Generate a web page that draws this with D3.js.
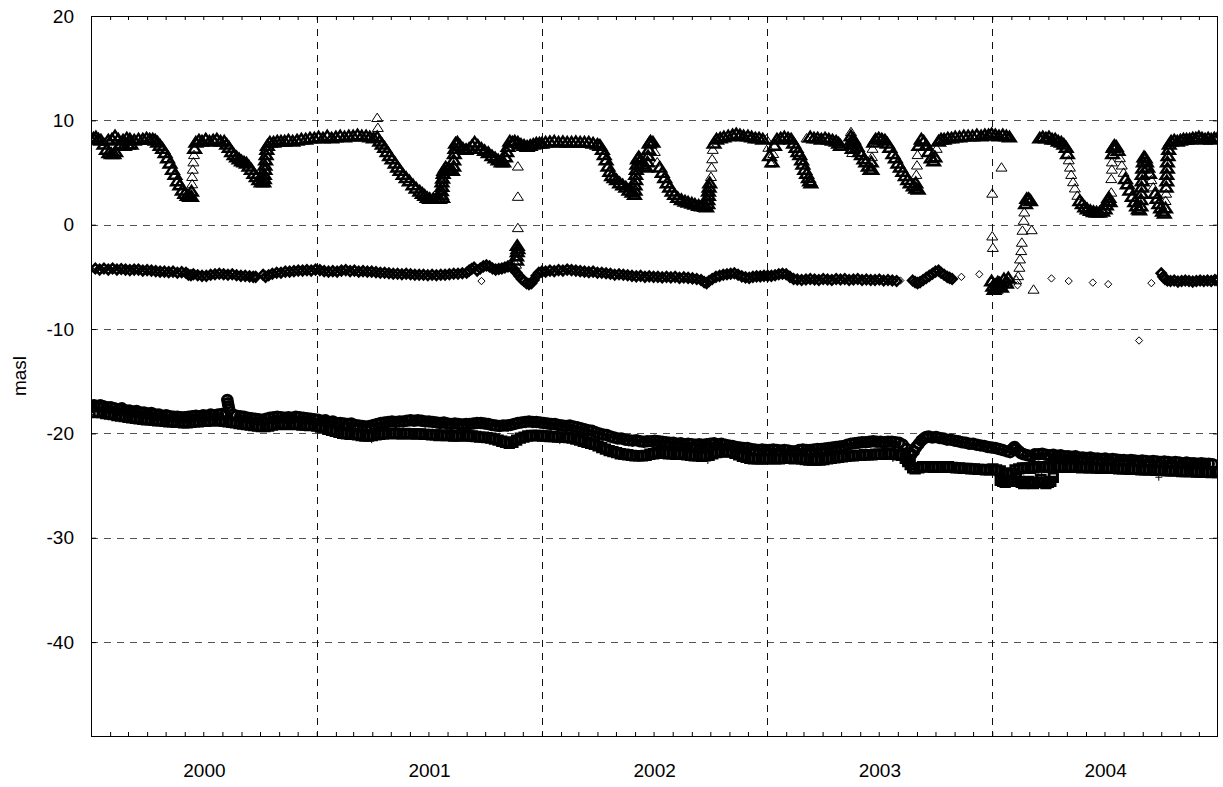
<!DOCTYPE html>
<html>
<head>
<meta charset="utf-8">
<script src="https://cdn.jsdelivr.net/npm/d3@7"></script>
<style>
  body { margin: 0; background: #fff; }
  text { font-family: "Liberation Sans", Arial, Helvetica, sans-serif; }
</style>
</head>
<body>
<svg id="chart" width="1223" height="787"></svg>
<script>
// axis labels
var yearLabels = [2000, 2001, 2002, 2003, 2004]
var yTicks = [20, 10, 0, -10, -20, -30, -40]
var yLabel = 'masl'

// every series: [day since 2000-01-01, level in masl]
var triangles = [
  [0,8.2],[4,8.3],[8,8.4],[12,8.2],[16,8.1],[21,7.7],[25,7.2],[29,6.9],[33,6.8],[37,6.8],[40,7.0],
  [28,8.1],[34,8.2],[39,8.5],[44,8.2],[48,7.7],[54,7.6],[60,7.7],[65,7.7],
  [52,8.1],[58,8.3],[63,8.2],[70,8.1],[77,8.2],[84,8.2],[90,8.3],[95,8.2],[100,8.2],[104,8.1],
  [108,7.9],[112,7.6],[116,7.3],[120,6.9],[124,6.4],[128,5.9],[132,5.3],[136,4.8],[140,4.2],[144,3.8],[148,3.3],[152,3.0],[156,2.8],[160,2.7],[163,2.7],
  [163,3.2],[164,3.9],[164,4.6],[165,5.3],[166,6.0],[167,6.7],[168,7.3],
  [170,7.9],[175,8.1],[180,8.0],[186,8.2],[192,8.0],[198,8.1],[204,8.2],[210,8.0],[216,8.0],
  [220,7.7],[224,7.4],[228,7.0],[232,6.7],[236,6.5],[240,6.3],[244,6.1],[248,6.0],[252,5.9],[256,5.6],[260,5.3],[264,4.9],[268,4.6],[272,4.3],[276,4.1],[280,4.1],
  [281,4.4],[281,4.8],[282,5.3],[282,5.7],[283,6.2],[284,6.7],[285,7.2],[286,7.6],
  [290,7.9],[296,7.9],[302,8.0],[308,8.0],[314,8.0],[320,8.1],[327,8.0],[334,8.1],[341,8.2],[348,8.2],[355,8.3],[362,8.3],
  [369,8.4],[376,8.3],[383,8.5],[390,8.3],[397,8.4],[404,8.5],[411,8.4],[418,8.5],[425,8.5],[432,8.6],[439,8.5],[446,8.5],[452,8.4],[458,8.3],[464,8.4],
  [464,10.25],[465,9.3],
  [468,8.0],[472,7.7],[476,7.4],[480,7.0],[484,6.6],[488,6.3],[493,5.9],[497,5.5],[501,5.2],[506,4.8],[511,4.5],[516,4.2],[522,3.8],[527,3.5],[533,3.2],[537,3.0],[541,2.8],[545,2.6],[549,2.5],[555,2.5],[560,2.5],[565,2.5],[570,2.6],
  [568,2.9],[568,3.25],[569,3.65],[569,4.1],[570,4.45],[571,4.9],
  [572,5.2],[575,5.5],[578,5.3],[582,5.2],[586,5.2],
  [588,5.6],[588,6.2],[589,6.8],[590,7.3],[591,7.8],
  [594,7.9],[598,7.6],[603,7.3],[608,7.2],[613,7.3],[618,7.6],[622,7.9],[627,7.6],[633,7.3],[638,7.1],[644,6.9],[650,6.6],[655,6.4],[660,6.2],[665,6.0],[669,6.0],
  [672,6.5],[674,7.0],[676,7.5],[679,8.0],[683,7.9],
  [692,5.6],[692,2.7],[692,-0.3],[691,-2.0],[692,-2.3],[691,-2.6],[690,-3.0],[690,-3.4],[689,-3.8],
  [687,8.0],[692,7.9],[697,7.7],[702,7.6],[707,7.5],[712,7.6],[717,7.7],[722,7.8],[727,7.8],[731,7.8],[737,7.9],[744,7.95],[751,8.0],[758,7.9],[765,7.95],[772,7.9],[779,7.9],[786,7.95],[793,7.9],[800,7.9],[807,7.9],[814,7.8],[821,7.7],[825,7.6],
  [829,7.2],[832,6.7],[835,6.2],[838,5.6],[841,5.1],[844,4.7],[848,4.5],[852,4.3],[857,4.0],[862,3.8],[867,3.6],[872,3.3],[877,3.1],[881,2.9],
  [882,3.3],[882,3.8],[883,4.3],[883,4.8],[884,5.3],[885,5.8],[886,6.3],
  [888,6.5],[891,6.2],[894,5.8],[897,5.6],[900,5.5],
  [902,6.0],[903,6.6],[904,7.2],[905,7.8],[907,8.0],[911,7.9],
  [914,7.0],[918,6.0],[922,5.5],[926,5.0],[930,4.5],[934,4.0],[938,3.6],[942,3.2],[946,2.9],[951,2.6],[957,2.4],[963,2.25],[968,2.15],[974,2.05],[979,1.95],[985,1.85],[990,1.8],[995,1.75],[998,1.7],
  [1000,2.0],[1000,2.4],[1001,2.8],[1001,3.2],[1002,3.6],[1003,4.0],[1005,4.6],[1006,5.5],[1007,6.3],[1008,7.2],[1010,7.8],
  [1014,8.2],[1020,8.3],[1026,8.4],[1033,8.5],[1040,8.6],[1046,8.7],[1052,8.6],[1058,8.5],[1065,8.5],[1071,8.4],[1077,8.3],[1083,8.3],[1089,8.2],[1095,8.2],
  [1098,7.4],[1100,6.6],[1102,5.9],[1104,6.0],[1106,6.8],[1108,7.6],[1112,8.2],
  [1118,8.3],[1124,8.4],[1130,8.3],[1135,8.2],
  [1139,7.8],[1143,7.4],[1146,7.0],[1149,6.7],[1152,6.2],[1154,5.8],[1157,5.3],[1160,4.9],[1163,4.5],[1165,4.2],[1167,4.0],
  [1160,8.3],[1166,8.4],[1172,8.3],[1178,8.3],[1184,8.2],[1190,8.3],[1196,8.2],[1202,8.1],[1208,8.0],[1212,7.8],[1215,7.6],
  [1232,8.9],[1232,8.5],[1233,8.1],[1233,7.7],[1234,7.3],[1234,6.9],
  [1236,8.2],[1238,7.9],[1242,7.5],[1246,7.0],[1249,6.7],[1253,6.3],[1256,6.0],[1260,5.6],[1263,5.3],[1266,5.3],
  [1265,6.0],[1266,6.5],[1267,7.3],[1269,7.9],
  [1272,8.2],[1277,8.3],[1282,8.2],[1287,8.1],
  [1291,7.8],[1295,7.4],[1300,6.8],[1304,6.4],[1308,5.9],[1312,5.5],[1316,5.1],[1320,4.7],[1324,4.3],[1328,4.0],[1333,3.7],[1337,3.5],[1341,3.4],
  [1337,4.0],[1338,4.8],[1339,5.7],[1340,6.7],[1342,7.6],
  [1346,8.2],[1350,8.0],[1354,7.6],[1358,7.0],[1362,6.4],[1366,6.1],[1368,6.5],[1371,7.3],[1374,8.0],[1378,8.2],
  [1383,8.2],[1389,8.3],[1395,8.3],[1401,8.4],[1408,8.4],[1415,8.5],[1422,8.5],[1429,8.5],[1436,8.6],[1443,8.5],[1449,8.6],[1455,8.6],[1460,8.7],[1466,8.6],[1472,8.5],[1478,8.6],[1484,8.5],[1489,8.4],
  [1476,5.5],[1461,3.0],[1461,-1.1],[1462,-2.2],
  [1460,-5.4],[1462,-5.9],[1464,-6.2],[1466,-6.1],[1468,-5.8],[1470,-5.5],[1473,-5.6],[1476,-6.0],[1480,-5.2],[1484,-5.6],[1487,-5.1],
  [1500,-5.3],[1503,-4.9],[1505,-4.1],[1506,-3.3],[1508,-2.5],[1509,-1.7],[1510,-0.55],[1512,0.4],[1513,1.2],[1515,2.0],[1517,2.5],[1520,2.5],[1523,2.3],
  [1525,-0.5],[1528,-6.2],
  [1538,8.3],[1543,8.4],[1548,8.3],[1553,8.4],[1558,8.2],[1563,8.2],[1568,8.0],[1573,7.9],[1577,7.7],[1581,7.4],[1583,6.8],[1585,6.2],[1587,5.5],[1589,4.8],[1592,4.1],[1595,3.5],[1599,2.8],[1603,2.3],[1607,2.0],[1611,1.7],[1615,1.5],[1620,1.35],[1625,1.25],[1630,1.2],[1635,1.2],[1640,1.3],[1644,1.5],
  [1646,1.9],[1648,2.3],[1650,2.6],[1652,2.2],
  [1654,3.1],[1654,4.4],[1655,5.3],[1655,6.0],[1656,6.8],[1657,7.4],
  [1659,7.6],[1662,7.5],
  [1665,7.1],[1668,6.4],[1671,5.7],[1674,5.0],[1677,4.4],[1680,3.9],[1684,3.3],[1688,2.7],[1692,2.2],[1695,1.8],[1698,1.5],[1700,1.4],
  [1702,1.8],[1702,2.4],[1703,3.0],[1703,3.6],[1704,4.2],[1704,4.8],[1705,5.4],[1706,6.0],[1707,6.5],
  [1709,6.4],[1711,6.0],
  [1713,5.5],[1716,4.9],[1719,4.3],[1722,3.6],[1725,3.0],[1728,2.5],[1731,2.0],[1734,1.6],[1737,1.3],[1740,1.1],
  [1742,1.6],[1742,2.3],[1743,3.0],[1743,3.6],[1744,4.2],[1744,4.8],[1745,5.4],[1745,6.0],[1746,6.6],[1747,7.2],[1748,7.7],
  [1751,8.0],[1756,8.1],[1761,8.0],[1766,8.1],[1771,8.2],[1776,8.2],[1781,8.2],[1786,8.3],[1791,8.3],[1796,8.4],[1801,8.3],[1806,8.2],[1811,8.3],[1816,8.2],[1821,8.3],[1826,8.3]
]

var diamonds = [
  [0,-4.3],[7,-4.2],[14,-4.3],[21,-4.2],[28,-4.3],[35,-4.2],[42,-4.3],[49,-4.25],[56,-4.3],[63,-4.35],[70,-4.3],[77,-4.3],[84,-4.4],[91,-4.35],[98,-4.4],[105,-4.45],[112,-4.5],[119,-4.5],[126,-4.55],[133,-4.5],[140,-4.6],[147,-4.55],[154,-4.6],[158,-4.8],[162,-4.85],[166,-4.75],[173,-4.85],[180,-4.9],[187,-4.9],[194,-4.8],[201,-4.75],[208,-4.7],[215,-4.75],[222,-4.8],[229,-4.75],[236,-4.85],[243,-4.9],[250,-4.9],[257,-4.95],[263,-5.0],[267,-5.0],
  [279,-4.8],[283,-5.0],[288,-4.85],[294,-4.7],[301,-4.6],[308,-4.6],[315,-4.5],[322,-4.5],[329,-4.45],[336,-4.4],[343,-4.4],[350,-4.35],[357,-4.4],[364,-4.3],
  [371,-4.35],[378,-4.45],[385,-4.5],[392,-4.45],[399,-4.5],[406,-4.4],[413,-4.35],[420,-4.45],[427,-4.4],[434,-4.5],[441,-4.45],[448,-4.5],[455,-4.5],[462,-4.55],[469,-4.6],[476,-4.6],[483,-4.65],[490,-4.7],[497,-4.7],[504,-4.75],[511,-4.7],[518,-4.75],[525,-4.8],[532,-4.8],[539,-4.8],[546,-4.85],[553,-4.8],[560,-4.85],[567,-4.8],[574,-4.8],[581,-4.75],[588,-4.7],[595,-4.7],[602,-4.65],[609,-4.6],[613,-4.4],[617,-4.25],[621,-4.1],[626,-4.4],[633,-5.4],[631,-4.2],[636,-4.0],[641,-3.9],[646,-4.0],[651,-4.2],[656,-4.3],[661,-4.25],[666,-4.2],[671,-4.1],[676,-4.0],[681,-4.05],[686,-4.3],[690,-4.6],[694,-4.9],[698,-5.2],[702,-5.4],[706,-5.6],[710,-5.7],[714,-5.6],[718,-5.3],[722,-4.9],[726,-4.6],
  [731,-4.5],[737,-4.5],[744,-4.4],[751,-4.45],[758,-4.35],[765,-4.4],[772,-4.3],[779,-4.35],[786,-4.4],[793,-4.45],[800,-4.5],[807,-4.55],[814,-4.5],[821,-4.6],[828,-4.6],[835,-4.65],[842,-4.7],[849,-4.8],[856,-4.75],[863,-4.8],[870,-4.85],[877,-4.9],[884,-4.95],[891,-4.9],[898,-5.0],[905,-4.95],[912,-5.0],
  [919,-5.0],[926,-5.05],[933,-5.0],[940,-5.05],[947,-5.0],[954,-5.1],[961,-5.05],[968,-5.1],[975,-5.15],[982,-5.2],[989,-5.3],[994,-5.5],[998,-5.6],[1002,-5.4],[1007,-5.2],[1013,-5.0],[1019,-4.9],[1025,-4.8],[1031,-4.75],[1037,-4.7],[1043,-4.65],[1049,-4.8],[1055,-4.95],[1061,-5.05],[1067,-5.1],[1073,-5.0],[1079,-4.95],[1085,-4.95],[1091,-4.9],
  [1097,-4.9],[1103,-4.9],[1109,-4.85],[1115,-4.75],[1121,-4.7],[1127,-4.75],[1133,-5.0],[1139,-5.2],[1145,-5.25],[1152,-5.3],[1159,-5.25],[1166,-5.2],[1173,-5.25],[1180,-5.3],[1187,-5.2],[1194,-5.25],[1201,-5.3],[1208,-5.2],[1215,-5.25],[1222,-5.2],[1229,-5.3],[1236,-5.25],[1243,-5.2],[1250,-5.3],[1257,-5.25],[1264,-5.3],[1271,-5.3],[1278,-5.25],[1285,-5.35],[1292,-5.3],[1299,-5.35],[1306,-5.4],[1312,-5.35],
  [1332,-5.35],[1336,-5.5],[1340,-5.6],[1344,-5.5],[1349,-5.3],[1354,-5.1],[1359,-4.9],[1364,-4.7],[1369,-4.5],[1374,-4.4],[1378,-4.6],[1383,-4.8],[1388,-5.0],[1392,-5.1],[1396,-5.2],
  [1411,-5.0],[1440,-4.75],[1458,-5.4],[1466,-5.7],[1472,-5.6],[1478,-5.9],[1485,-5.5],[1490,-5.3],[1502,-5.8],[1557,-5.15],[1585,-5.4],[1624,-5.55],[1649,-5.7],[1699,-11.1],[1719,-5.6],[1735,-4.65],
  [1738,-5.0],[1741,-5.2],[1745,-5.35],[1750,-5.4],[1756,-5.35],[1762,-5.45],[1768,-5.4],[1774,-5.35],[1780,-5.4],[1786,-5.45],[1792,-5.4],[1798,-5.35],[1804,-5.4],[1810,-5.35],[1816,-5.4],[1822,-5.3],[1826,-5.35]
]

var circles = [
  [0,-17.5],[5,-17.3],[10,-17.4],[15,-17.3],[20,-17.4],[26,-17.5],[32,-17.5],[38,-17.6],[44,-17.7],[50,-17.6],[56,-17.8],[62,-17.8],[68,-17.9],[74,-17.85],[80,-18.0],[86,-18.0],[92,-18.1],[98,-18.05],[104,-18.2],[110,-18.2],[116,-18.3],[122,-18.25],[128,-18.35],[134,-18.4],[140,-18.4],[146,-18.45],[152,-18.45],[158,-18.4],[164,-18.35],[170,-18.3],[176,-18.35],[182,-18.25],[188,-18.3],[194,-18.2],[200,-18.25],[206,-18.2],[212,-18.15],[218,-18.2],
  [221,-16.8],[222,-17.1],[223,-17.4],[224,-17.7],
  [230,-18.2],[236,-18.3],[242,-18.35],[248,-18.4],[254,-18.5],[260,-18.55],[266,-18.6],[272,-18.65],[278,-18.7],[284,-18.6],[290,-18.5],[296,-18.45],[302,-18.4],[308,-18.45],[314,-18.5],[320,-18.45],[326,-18.5],[332,-18.4],[338,-18.45],[344,-18.5],[350,-18.55],[356,-18.6],[362,-18.65],
  [368,-18.7],[374,-18.8],[380,-18.75],[386,-18.9],[392,-18.85],[398,-19.0],[404,-19.0],[410,-19.05],[416,-19.1],[422,-19.05],[428,-19.2],[434,-19.25],[440,-19.3],[446,-19.35],[452,-19.3],[458,-19.2],[464,-19.1],[470,-19.0],[476,-18.95],[482,-18.9],[488,-18.85],[494,-18.9],[500,-18.85],[506,-18.85],[512,-18.8],[518,-18.75],[524,-18.8],[530,-18.75],[536,-18.8],[542,-18.85],[548,-18.85],[554,-18.9],[560,-18.95],[566,-19.0],[572,-18.95],[578,-19.05],[584,-19.1],[590,-19.05],[596,-19.1],[602,-19.15],[608,-19.1],[614,-19.1],[620,-19.05],[626,-19.0],[632,-19.0],[638,-19.05],[644,-19.1],[650,-19.2],[656,-19.25],[662,-19.3],[668,-19.25],[674,-19.25],[680,-19.2],[686,-19.1],[692,-19.0],[698,-18.95],[704,-18.9],[710,-18.85],[716,-18.9],[722,-18.9],[728,-18.95],
  [734,-19.0],[740,-19.05],[746,-19.1],[752,-19.1],[758,-19.2],[764,-19.25],[770,-19.3],[776,-19.25],[782,-19.35],[788,-19.4],[794,-19.5],[800,-19.6],[806,-19.7],[812,-19.75],[818,-19.9],[824,-20.0],[830,-20.1],[836,-20.15],[842,-20.3],[848,-20.4],[854,-20.5],[860,-20.5],[866,-20.6],[872,-20.65],[878,-20.7],[884,-20.65],[890,-20.75],[896,-20.8],[902,-20.75],[908,-20.75],[914,-20.7],[920,-20.75],[926,-20.8],[932,-20.85],[938,-20.9],[944,-20.9],[950,-21.0],[956,-20.95],[962,-21.05],[968,-21.0],[974,-21.05],[980,-21.1],[986,-21.05],[992,-21.1],[998,-21.05],[1004,-21.0],[1010,-20.95],[1016,-21.05],[1022,-21.0],[1028,-21.1],[1034,-21.15],[1040,-21.2],[1046,-21.3],[1052,-21.35],[1058,-21.4],[1064,-21.4],[1070,-21.5],[1076,-21.55],[1082,-21.6],[1088,-21.55],[1094,-21.6],
  [1100,-21.6],[1106,-21.55],[1112,-21.6],[1118,-21.65],[1124,-21.6],[1130,-21.65],[1136,-21.7],[1142,-21.7],[1148,-21.6],[1154,-21.55],[1160,-21.6],[1166,-21.6],[1172,-21.55],[1178,-21.5],[1184,-21.5],[1190,-21.45],[1196,-21.4],[1202,-21.35],[1208,-21.3],[1214,-21.25],[1220,-21.2],[1226,-21.1],[1232,-21.0],[1238,-20.95],[1244,-20.9],[1250,-20.85],[1256,-20.85],[1262,-20.8],[1268,-20.75],[1274,-20.8],[1280,-20.8],[1286,-20.85],[1292,-20.8],[1298,-20.8],[1304,-20.85],[1310,-20.9],[1316,-21.1],[1322,-21.5],[1326,-21.9],[1330,-22.0],[1334,-21.7],[1338,-21.3],[1342,-21.0],[1346,-20.7],[1350,-20.5],[1354,-20.35],[1358,-20.3],[1364,-20.4],[1370,-20.35],[1376,-20.45],[1382,-20.5],[1388,-20.6],[1394,-20.6],[1400,-20.7],[1406,-20.75],[1412,-20.85],[1418,-20.9],[1424,-21.0],[1430,-21.0],[1436,-21.1],[1442,-21.15],[1448,-21.2],[1454,-21.3],[1460,-21.35],
  [1466,-21.4],[1472,-21.5],[1478,-21.6],[1484,-21.7],[1490,-21.8],[1494,-21.5],[1497,-21.3],[1500,-21.5],[1504,-21.7],[1508,-21.9],[1512,-22.0],[1518,-22.1],[1524,-22.2],[1530,-22.0],[1536,-22.0],[1542,-21.95],[1548,-22.05],[1554,-22.1],[1560,-22.05],[1566,-22.15],[1572,-22.1],[1578,-22.2],[1584,-22.2],[1590,-22.25],[1596,-22.2],[1602,-22.3],[1608,-22.3],[1614,-22.35],[1620,-22.3],[1626,-22.4],[1632,-22.4],[1638,-22.45],[1644,-22.4],[1650,-22.5],[1656,-22.45],[1662,-22.5],[1668,-22.55],[1674,-22.55],[1680,-22.6],[1686,-22.55],[1692,-22.6],[1698,-22.65],[1704,-22.6],[1710,-22.65],[1716,-22.7],[1722,-22.65],[1728,-22.7],[1734,-22.75],[1740,-22.7],[1746,-22.75],[1752,-22.8],[1758,-22.75],[1764,-22.8],[1770,-22.85],[1776,-22.8],[1782,-22.85],[1788,-22.85],[1794,-22.9],[1800,-22.85],[1806,-22.9],[1812,-22.9],[1818,-22.95],[1824,-22.9]
]

var squares = [
  [0,-17.9],[6,-18.0],[12,-17.95],[18,-18.0],[24,-18.1],[30,-18.15],[36,-18.2],[42,-18.3],[48,-18.35],[54,-18.4],[60,-18.45],[66,-18.5],[72,-18.55],[78,-18.6],[84,-18.65],[90,-18.7],[96,-18.7],[102,-18.75],[108,-18.8],[114,-18.8],[120,-18.85],[126,-18.9],[132,-18.9],[138,-18.95],[144,-18.95],[150,-19.0],[156,-19.0],[162,-18.95],[168,-18.9],[174,-18.9],[180,-18.85],[186,-18.85],[192,-18.8],[198,-18.8],[204,-18.75],[210,-18.8],[216,-18.85],[222,-18.9],[228,-18.95],[234,-19.0],[240,-19.05],[246,-19.1],[252,-19.15],[258,-19.2],[264,-19.25],[270,-19.3],[276,-19.35],[282,-19.35],[288,-19.3],[294,-19.2],[300,-19.15],[306,-19.1],[312,-19.1],[318,-19.15],[324,-19.1],[330,-19.1],[336,-19.15],[342,-19.2],[348,-19.2],[354,-19.25],[360,-19.2],
  [366,-19.3],[372,-19.4],[378,-19.5],[384,-19.6],[390,-19.7],[396,-19.8],[402,-19.9],[408,-20.0],[414,-20.05],[420,-20.1],[426,-20.1],[432,-20.15],[438,-20.2],[444,-20.25],[450,-20.25],[456,-20.2],[462,-20.15],[468,-20.1],[474,-20.05],[480,-20.05],[486,-20.0],[492,-20.0],[498,-20.05],[504,-20.05],[510,-20.0],[516,-20.05],[522,-20.05],[528,-20.05],[534,-20.05],[540,-20.1],[546,-20.1],[552,-20.15],[558,-20.15],[564,-20.2],[570,-20.15],[576,-20.2],[582,-20.2],[588,-20.25],[594,-20.25],[600,-20.2],[606,-20.2],[612,-20.25],[618,-20.25],[624,-20.3],[630,-20.35],[636,-20.35],[642,-20.4],[648,-20.45],[654,-20.55],[660,-20.65],[666,-20.75],[672,-20.85],[678,-20.95],[684,-20.85],[690,-20.65],[696,-20.45],[702,-20.35],[708,-20.25],[714,-20.2],[720,-20.2],[726,-20.2],
  [732,-20.25],[738,-20.25],[744,-20.3],[750,-20.3],[756,-20.35],[762,-20.35],[768,-20.35],[774,-20.4],[780,-20.45],[786,-20.55],[792,-20.65],[798,-20.75],[804,-20.85],[810,-20.95],[816,-21.05],[822,-21.2],[828,-21.35],[834,-21.5],[840,-21.65],[846,-21.75],[852,-21.85],[858,-21.95],[864,-22.0],[870,-22.05],[876,-22.1],[882,-22.15],[888,-22.15],[894,-22.15],[900,-22.1],[906,-22.0],[912,-21.95],[918,-21.85],[924,-21.85],[930,-21.9],[936,-21.95],[942,-21.95],[948,-22.0],[954,-21.95],[960,-22.0],[966,-22.05],[972,-22.1],[978,-22.15],[984,-22.15],[990,-22.2],[996,-22.15],[1002,-22.1],[1008,-21.95],[1014,-21.85],[1020,-21.8],[1026,-21.75],[1032,-21.75],[1038,-21.8],[1044,-21.9],[1050,-22.05],[1056,-22.2],[1062,-22.3],[1068,-22.4],[1074,-22.45],[1080,-22.45],[1086,-22.45],[1092,-22.45],
  [1098,-22.45],[1104,-22.4],[1110,-22.45],[1116,-22.45],[1122,-22.4],[1128,-22.35],[1134,-22.4],[1140,-22.45],[1146,-22.4],[1152,-22.45],[1158,-22.5],[1164,-22.55],[1170,-22.55],[1176,-22.55],[1182,-22.55],[1188,-22.5],[1194,-22.45],[1200,-22.4],[1206,-22.35],[1212,-22.3],[1218,-22.25],[1224,-22.2],[1230,-22.15],[1236,-22.15],[1242,-22.1],[1248,-22.1],[1254,-22.05],[1260,-22.05],[1266,-22.05],[1272,-22.0],[1278,-22.0],[1284,-22.0],[1290,-21.95],[1296,-21.95],[1302,-22.0],[1308,-22.05],[1314,-22.1],[1320,-22.4],[1324,-22.7],[1328,-23.0],[1332,-23.3],[1336,-23.4],[1342,-23.3],[1348,-23.2],[1354,-23.2],[1360,-23.2],[1366,-23.25],[1372,-23.2],[1378,-23.2],[1384,-23.25],[1390,-23.2],[1396,-23.25],[1402,-23.3],[1408,-23.3],[1414,-23.35],[1420,-23.35],[1426,-23.4],[1432,-23.4],[1438,-23.45],[1444,-23.45],[1450,-23.5],[1456,-23.5],
  [1474,-24.5],[1478,-24.6],[1482,-24.7],[1486,-24.6],[1490,-24.5],[1494,-24.6],[1500,-24.3],[1504,-24.6],[1508,-24.7],[1512,-24.8],[1516,-24.7],[1520,-24.6],[1524,-24.7],[1528,-24.8],[1536,-24.0],[1540,-24.4],[1544,-24.7],[1548,-24.8],[1552,-24.7],[1556,-24.6],[1560,-24.2],
  [1462,-23.4],[1468,-23.5],[1474,-23.6],[1480,-23.8],[1486,-23.9],[1492,-23.8],[1498,-23.5],[1504,-23.4],[1510,-23.3],[1516,-23.3],[1522,-23.35],[1528,-23.3],[1534,-23.2],[1540,-23.2],[1546,-23.2],[1552,-23.25],[1558,-23.2],[1564,-23.2],[1570,-23.2],[1576,-23.25],[1582,-23.2],[1588,-23.25],[1594,-23.2],[1600,-23.25],[1606,-23.3],[1612,-23.25],[1618,-23.3],[1624,-23.3],[1630,-23.3],[1636,-23.35],[1642,-23.3],[1648,-23.35],[1654,-23.35],[1660,-23.35],[1666,-23.4],[1672,-23.4],[1678,-23.4],[1684,-23.45],[1690,-23.45],[1696,-23.45],[1702,-23.5],[1708,-23.5],[1714,-23.5],[1720,-23.5],[1726,-23.55],[1732,-23.55],[1738,-23.55],[1744,-23.6],[1750,-23.6],[1756,-23.6],[1762,-23.6],[1768,-23.65],[1774,-23.65],[1780,-23.65],[1786,-23.65],[1792,-23.7],[1798,-23.7],[1804,-23.7],[1810,-23.7],[1816,-23.75],[1822,-23.7],[1826,-23.75]
]

var pluses = [
  [455,-20.6],[610,-19.0],[760,-20.7],[1000,-22.6],[1300,-22.4],[1500,-23.7],[1731,-24.2],[1820,-23.9]
]

var svg = d3.select('#chart')
var plotL = 91, plotR = 1218, plotT = 16, plotB = 736
var start = new Date(Date.UTC(2000, 0, 1))
var end = new Date(Date.UTC(2005, 0, 1))

var x = d3.scaleUtc()
  .domain([start, end])
  .range([plotL, plotR])
var y = d3.scaleLinear()
  .domain([-49, 20])
  .range([plotB, plotT])

function day(d) { return d3.utcDay.offset(start, d) }

// grid
svg.append('g')
  .selectAll('line')
  .data(yTicks.filter(function(v) { return v < 20 }))
  .enter().append('line')
  .attr('x1', plotL).attr('x2', plotR)
  .attr('y1', function(d) { return Math.round(y(d)) + 0.5 })
  .attr('y2', function(d) { return Math.round(y(d)) + 0.5 })
  .attr('stroke', '#555').attr('stroke-dasharray', '7,6')

svg.append('g')
  .selectAll('line')
  .data(yearLabels.slice(1))
  .enter().append('line')
  .attr('y1', plotT).attr('y2', plotB)
  .attr('x1', function(d) { return Math.round(x(new Date(Date.UTC(d, 0, 1)))) + 0.5 })
  .attr('x2', function(d) { return Math.round(x(new Date(Date.UTC(d, 0, 1)))) + 0.5 })
  .attr('stroke', '#111').attr('stroke-dasharray', '7,6')

// markers
var shapes = {
  triangle: 'M0,-4.6L5.5,3.8L-5.5,3.8Z',
  diamond: 'M0,-3.7L3.6,0L0,3.7L-3.6,0Z',
  square: 'M-3.2,-3.2H3.2V3.2H-3.2Z',
  circle: d3.symbol().type(d3.symbolCircle).size(42)(),
  plus: 'M-3.5,0H3.5M0,-3.5V3.5'
}

svg.append('clipPath').attr('id', 'clip')
  .append('rect').attr('x', plotL).attr('y', plotT)
  .attr('width', plotR - plotL).attr('height', plotB - plotT)
var plot = svg.append('g').attr('clip-path', 'url(#clip)')

// markers packed in a dense run get a heavier, slightly larger outline;
// lone markers (outliers, steep jumps) stay thin like the original
function drawSeries(data, shape, heavy, grow) {
  var pts = data.map(function(d) { return [x(day(d[0])), y(d[1])] })
  function dense(p) {
    return pts.filter(function(q) {
      var dx = q[0] - p[0], dy = q[1] - p[1]
      return dx * dx + dy * dy < 52
    }).length >= 3
  }
  plot.append('g')
    .selectAll('path')
    .data(pts)
    .enter().append('path')
    .attr('d', shapes[shape])
    .attr('transform', function(p) {
      var s = dense(p) ? grow : 1
      return 'translate(' + p[0] + ',' + p[1] + ') scale(' + s + ')'
    })
    .attr('fill', 'none')
    .attr('stroke', '#000')
    .attr('vector-effect', 'non-scaling-stroke')
    .attr('stroke-width', function(p) { return dense(p) ? heavy : 1 })
}

drawSeries(squares, 'square', 3, 1.3)
drawSeries(pluses, 'plus', 1, 1)
drawSeries(circles, 'circle', 3, 1.3)
drawSeries(diamonds, 'diamond', 2.7, 1.25)
drawSeries(triangles, 'triangle', 2.5, 1.12)

// axes
var months = d3.utcMonth.range(start, end)
svg.append('g')
  .attr('transform', 'translate(0,' + plotB + ')')
  .call(d3.axisBottom(x).tickValues(months).tickSize(-4).tickFormat(''))
  .call(function(g) { g.select('.domain').remove() })
svg.append('g')
  .attr('transform', 'translate(0,' + plotT + ')')
  .call(d3.axisTop(x).tickValues(months).tickSize(-4).tickFormat(''))
  .call(function(g) { g.select('.domain').remove() })

var midYears = yearLabels.map(function(yr) { return new Date(Date.UTC(yr, 6, 2)) })
svg.append('g')
  .attr('transform', 'translate(0,' + plotB + ')')
  .call(d3.axisBottom(x).tickValues(midYears).tickSize(0).tickPadding(28)
    .tickFormat(d3.utcFormat('%Y')))
  .call(function(g) { g.select('.domain').remove() })

svg.append('g')
  .attr('transform', 'translate(' + plotL + ',0)')
  .call(d3.axisLeft(y).tickValues(yTicks).tickSize(-5).tickPadding(17)
    .tickFormat(function(d) { return String(d) }))
  .call(function(g) { g.select('.domain').remove() })
svg.append('g')
  .attr('transform', 'translate(' + plotR + ',0)')
  .call(d3.axisRight(y).tickValues(yTicks).tickSize(-5).tickFormat(''))
  .call(function(g) { g.select('.domain').remove() })

svg.selectAll('.tick text')
  .attr('fill', '#000')
  .style('font-size', '19px')
  .style('font-family', '"Liberation Sans", Arial, Helvetica, sans-serif')

// frame
svg.append('rect')
  .attr('x', plotL + 0.5).attr('y', plotT + 0.5)
  .attr('width', plotR - plotL - 1).attr('height', plotB - plotT)
  .attr('fill', 'none').attr('stroke', '#000')

svg.append('text')
  .attr('transform', 'translate(26,' + ((plotT + plotB) / 2) + ') rotate(-90)')
  .attr('text-anchor', 'middle')
  .style('font-size', '19px')
  .text(yLabel)
</script>
</body>
</html>
